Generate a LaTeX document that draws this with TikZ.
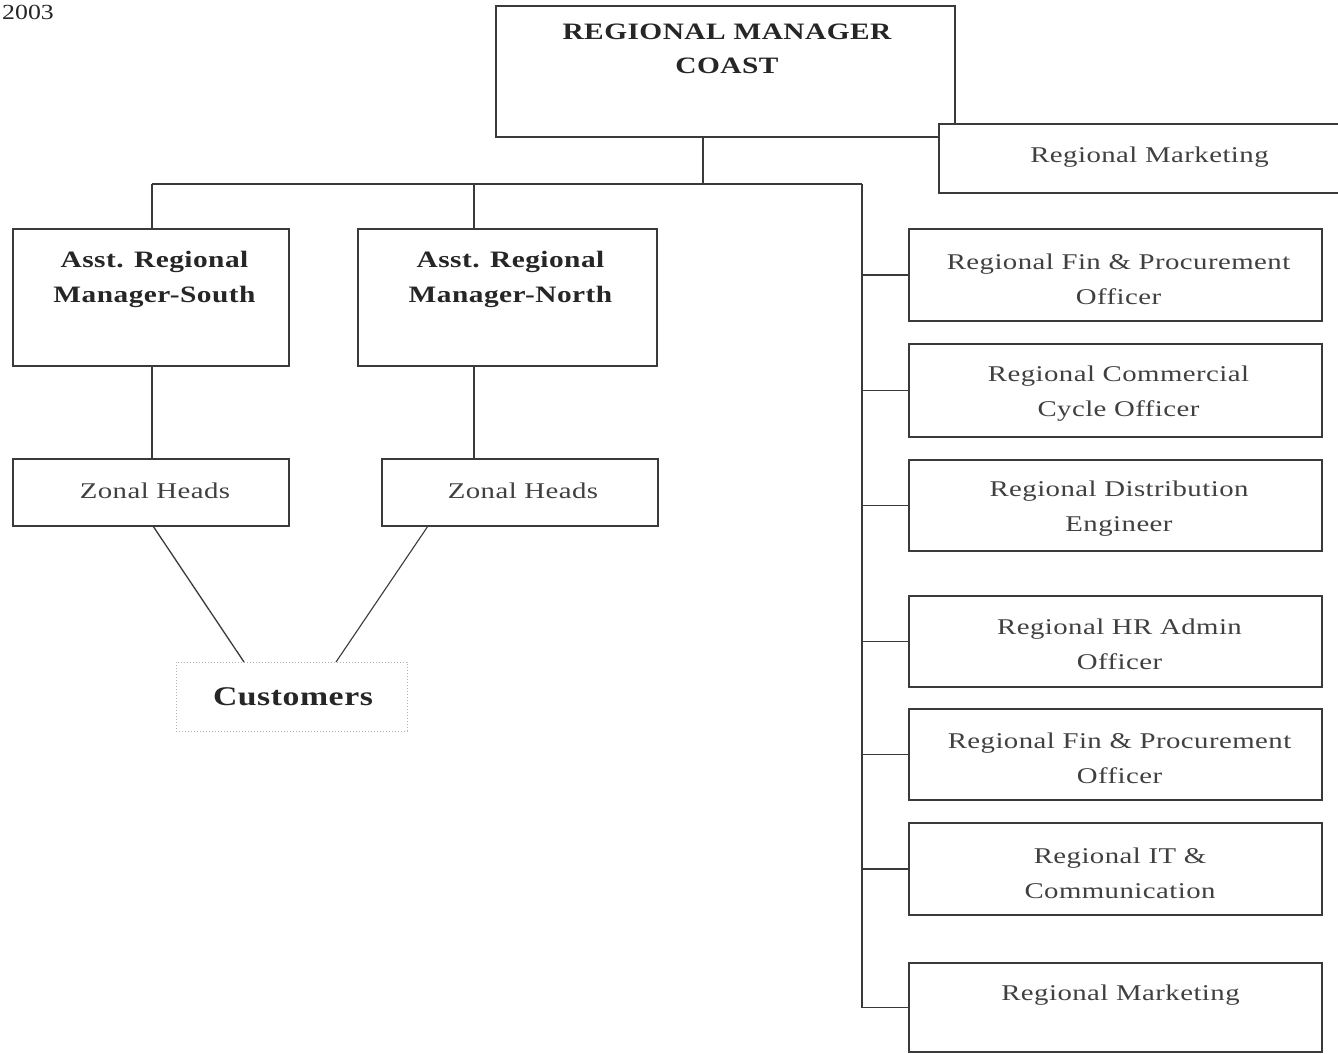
\documentclass[tikz,border=0pt]{standalone}
\usepackage{fontspec}
\setmainfont{Liberation Serif}
\newfontfamily\lightface[FakeStretch=1.28,LetterSpace=2]{Liberation Serif}
\newfontfamily\headface[FakeStretch=1.25,LetterSpace=2]{Liberation Serif}
\newfontfamily\yearface[FakeStretch=1.2]{Liberation Serif}
\usetikzlibrary{calc}
\definecolor{linecol}{HTML}{3A3A3A}
\definecolor{txtreg}{HTML}{404040}
\definecolor{txtbold}{HTML}{262626}
\begin{document}
\begin{tikzpicture}[x=1pt,y=-1pt,
  unit/.style={draw=linecol, line width=1.3pt, fill=white, inner sep=0pt, outer sep=0pt},
  dotbox/.style={draw=gray!60, dotted, line width=1pt, inner sep=0pt, outer sep=0pt},
  link/.style={draw=linecol, line width=1.3pt},
  headtxt/.style={font=\headface\bfseries\fontsize{23.5}{34}\selectfont, text=txtbold, align=center, inner sep=0pt},
  asttxt/.style={font=\headface\bfseries\fontsize{23.5}{35}\selectfont, text=txtbold, align=center, inner sep=0pt},
  bodytxt/.style={font=\lightface\fontsize{22.5}{35}\selectfont, text=txtreg, align=center, inner sep=0pt},
  custtxt/.style={font=\headface\bfseries\fontsize{27}{34}\selectfont, text=txtbold, inner sep=0pt}]
\clip (0,0) rectangle (1338,1053);
\fill[white] (0,0) rectangle (1338,1053);

% year stamp in the corner
\node[font=\yearface\fontsize{21.5}{24}\selectfont, text=txtbold, anchor=east, inner sep=0pt] (year) at (54,12) {2003};

% head of the region
\node[unit, minimum width=459, minimum height=131] (mgr) at (725.5,71.5) {};
\node[unit, minimum width=421, minimum height=69] (mkt0) at (1149.5,158.5) {};

% assistant managers and zonal heads
\node[unit, minimum width=276, minimum height=137] (south) at (151,297.5) {};
\node[unit, minimum width=299, minimum height=137] (north) at (507.5,297.5) {};
\node[unit, minimum width=276, minimum height=67] (zs) at (151,492.5) {};
\node[unit, minimum width=276, minimum height=67] (zn) at (520,492.5) {};
\node[dotbox, minimum width=231, minimum height=69] (cust) at (291.5,696.5) {};

% regional officers
\node[unit, minimum width=413, minimum height=92] (r1) at (1115.5,275) {};
\node[unit, minimum width=413, minimum height=93] (r2) at (1115.5,390.5) {};
\node[unit, minimum width=413, minimum height=91] (r3) at (1115.5,505.5) {};
\node[unit, minimum width=413, minimum height=91] (r4) at (1115.5,641.5) {};
\node[unit, minimum width=413, minimum height=91] (r5) at (1115.5,754.5) {};
\node[unit, minimum width=413, minimum height=92] (r6) at (1115.5,869) {};
\node[unit, minimum width=413, minimum height=89] (r7) at (1115.5,1007.5) {};

% junction points of the reporting bus
\coordinate (j0) at (703,184);
\coordinate (jS) at (152,184);
\coordinate (jN) at (474,184);
\coordinate (jR) at (862,184);

\draw[link] (mgr.south -| j0) -- (j0);
\draw[link] (jS) -- (jR);
\draw[link] (jS) -- (south.north -| jS);
\draw[link] (jN) -- (north.north -| jN);
\draw[link] (south.south -| jS) -- (zs.north -| jS);
\draw[link] (north.south -| jN) -- (zn.north -| jN);
\draw[link] (jR) |- (r7.west);
\foreach \b in {r1,r2,r3,r4,r5,r6}
  \draw[link] (\b.west -| jR) -- (\b.west);
\draw[link] ($(zs.south)+(2,0)$) -- ($(cust.north)+(-47.5,0)$);
\draw[link, line width=1.1pt] ($(zn.south)+(-92,0)$) -- ($(cust.north)+(44.5,0)$);

% redraw the marketing box over the corner of the head box
\node[unit, minimum width=421, minimum height=69] at (1149.5,158.5) {};

% labels
\node[headtxt] (tmgr) at (727,49) {REGIONAL MANAGER\\COAST};
\node[bodytxt] (tmkt0) at (1149.5,157) {Regional Marketing};
\node[asttxt] (tsouth) at (154.5,279) {Asst. Regional\\Manager-South};
\node[asttxt] (tnorth) at (510.5,279) {Asst. Regional\\Manager-North};
\node[bodytxt] (tzs) at (155,491) {Zonal Heads};
\node[bodytxt] (tzn) at (523,491) {Zonal Heads};
\node[custtxt] (tcust) at (293,697) {Customers};
\node[bodytxt] (tr1) at (1118.5,279) {Regional Fin \& Procurement\\Officer};
\node[bodytxt] (tr2) at (1118.5,394) {Regional Commercial\\Cycle Officer};
\node[bodytxt] (tr3) at (1119,509) {Regional Distribution\\Engineer};
\node[bodytxt] (tr4) at (1119.5,644) {Regional HR Admin\\Officer};
\node[bodytxt] (tr5) at (1119.5,758) {Regional Fin \& Procurement\\Officer};
\node[bodytxt] (tr6) at (1120,873) {Regional IT \&\\Communication};
\node[bodytxt] (tr7) at (1120.5,995) {Regional Marketing};
\end{tikzpicture}
\end{document}
